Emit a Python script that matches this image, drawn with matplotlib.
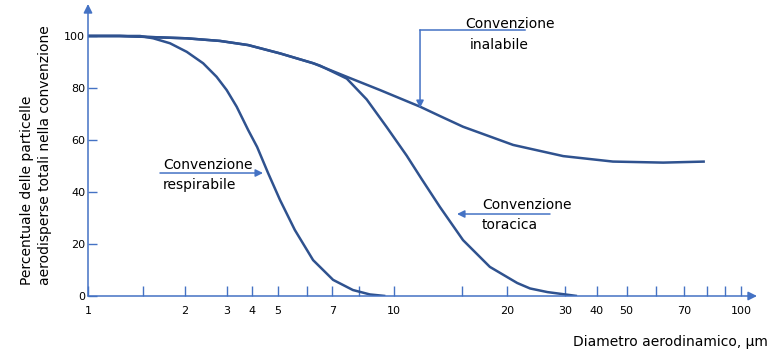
import numpy as np
import matplotlib
matplotlib.use("Agg")
import matplotlib.pyplot as plt

# axis breakpoints of the (hand drawn, not truly logarithmic) diameter axis
scale_vals = [1, 1.5, 2, 3, 4, 5, 6, 7, 8, 10, 15, 20, 30, 40, 50, 60, 70, 80, 90, 100, 120]
scale_frac = [0, 0.0818, 0.1445, 0.2073, 0.2456, 0.2836, 0.3269, 0.3652, 0.4046, 0.4578,
              0.5595, 0.6259, 0.7130, 0.7604, 0.8052, 0.8486, 0.8913, 0.9248, 0.9526, 0.9761, 1.0]

tick_vals = [1, 1.5, 2, 3, 4, 5, 6, 7, 8, 10, 15, 20, 30, 40, 50, 60, 70, 80, 90, 100]
tick_labels = ['1', '', '2', '3', '4', '5', '', '7', '', '10', '', '20', '30', '40', '50', '', '70', '', '', '100']
y_ticks = [0, 20, 40, 60, 80, 100]

# curves (diameter in um, percent)
inal_d = [1, 1.29, 2.05, 2.84, 3.84, 5.08, 6.26, 7.55, 9.2, 11.9, 13.36, 15.08, 21.1, 29.7, 45.4, 62.6, 79.2]
inal_v = [100, 100, 99.1, 98.1, 96.5, 93.3, 89.5, 84.3, 79.2, 72.8, 69.2, 65.1, 58.1, 53.8, 51.7, 51.3, 51.7]

tor_d = [1, 1.29, 2.05, 2.84, 3.84, 5.08, 6.26, 6.52, 7.55, 8.45, 9.57, 10.91, 12.01, 13.36, 15.08, 18.1, 21.8, 24.0, 27, 33.8]
tor_v = [100, 100, 99.1, 98.1, 96.5, 93.3, 89.5, 88.6, 83.6, 75.6, 65.0, 54.0, 45.0, 34.2, 21.5, 11.2, 5.0, 2.9, 1.5, 0]

resp_d = [1, 1.29, 1.475, 1.626, 1.825, 2.05, 2.44, 2.76, 3.0, 3.39, 3.84, 4.19, 4.62, 5.08, 5.59, 6.25, 7.03, 7.78, 8.63, 9.5]
resp_v = [100, 100, 100, 99.1, 97.2, 93.9, 89.5, 84.3, 79.2, 72.8, 63.8, 57.3, 47.3, 36.9, 25.4, 13.8, 6.2, 2.3, 0.6, 0]

curve_col = '#2F528F'
axis_col = '#4472C4'

plt.rcParams['font.family'] = ['DejaVu Sans']

fig = plt.figure(figsize=(7.78, 3.54), dpi=100)
ax = fig.add_axes([88/778, 58/354, 669/778, 292/354])

fwd = lambda d: np.interp(d, scale_vals, scale_frac)
inv = lambda f: np.interp(f, scale_frac, scale_vals)
ax.set_xscale('function', functions=(fwd, inv))
ax.set_xlim(1, 120)
ax.set_ylim(0, 112.3)

for xs, ys in [(inal_d, inal_v), (tor_d, tor_v), (resp_d, resp_v)]:
    ax.plot(xs, ys, color=curve_col, lw=1.8, solid_capstyle='butt', solid_joinstyle='round')

for s in ax.spines.values():
    s.set_visible(False)

arrow = dict(arrowstyle='-|>', color=axis_col, lw=1.1, mutation_scale=13, shrinkA=0, shrinkB=0)
ax.annotate('', xy=(1, 0), xytext=(0, 0), xycoords='axes fraction', arrowprops=arrow)
ax.annotate('', xy=(0, 1), xytext=(0, 0), xycoords='axes fraction', arrowprops=arrow)

ax.set_xticks(tick_vals)
ax.set_xticklabels(tick_labels)
ax.set_yticks(y_ticks)
ax.tick_params(axis='x', direction='in', length=7.5, width=1, color=axis_col, pad=7, labelsize=8)
ax.tick_params(axis='y', direction='in', length=6.5, width=1, color=axis_col, pad=2, labelsize=8)

# annotations
small_arrow = dict(arrowstyle='-|>', color=axis_col, lw=1.1, mutation_scale=11, shrinkA=0, shrinkB=0)
txt = dict(fontsize=10, va='center', ha='left', transform=ax.transAxes)

ax.text(0.5635, 0.9315, 'Convenzione', **txt)
ax.text(0.571, 0.8596, 'inalabile', **txt)
ax.plot([0.653, 0.4963], [0.911, 0.911], transform=ax.transAxes, clip_on=False, color=axis_col, lw=1.1)
ax.annotate('', xy=(0.4963, 0.6438), xytext=(0.4963, 0.911), xycoords='axes fraction', arrowprops=small_arrow)

ax.text(0.112, 0.4486, 'Convenzione', **txt)
ax.text(0.112, 0.380, 'respirabile', **txt)
ax.annotate('', xy=(0.2616, 0.4212), xytext=(0.1076, 0.4212), xycoords='axes fraction', arrowprops=small_arrow)

ax.text(0.589, 0.3116, 'Convenzione', **txt)
ax.text(0.589, 0.2432, 'toracica', **txt)
ax.annotate('', xy=(0.5516, 0.2808), xytext=(0.6906, 0.2808), xycoords='axes fraction', arrowprops=small_arrow)

fig.text(768/778, 1 - 342/354, 'Diametro aerodinamico, µm', ha='right', va='center', fontsize=10)
fig.text(36/778, (354 - 285)/354, 'Percentuale delle particelle\naerodisperse totali nella convenzione',
         rotation=90, ha='center', va='bottom', multialignment='left', fontsize=10, linespacing=1.45)

fig.savefig('out.png', dpi=100)
